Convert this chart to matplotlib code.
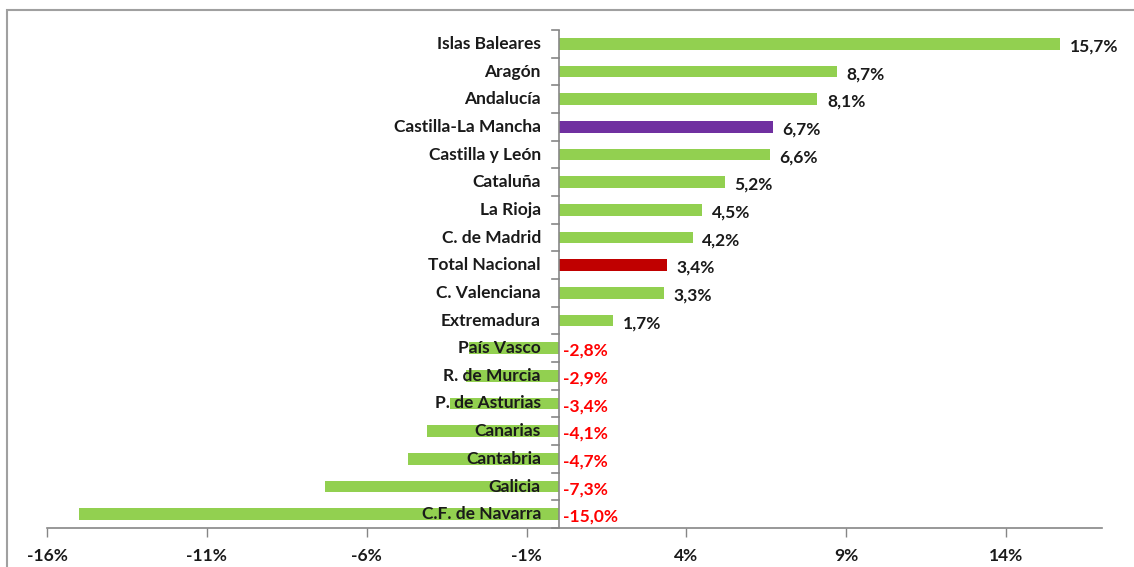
import matplotlib.pyplot as plt
from matplotlib.patches import Rectangle

regions = ['Islas Baleares', 'Aragón', 'Andalucía', 'Castilla-La Mancha',
           'Castilla y León', 'Cataluña', 'La Rioja', 'C. de Madrid',
           'Total Nacional', 'C. Valenciana', 'Extremadura', 'País Vasco',
           'R. de Murcia', 'P. de Asturias', 'Canarias', 'Cantabria',
           'Galicia', 'C.F. de Navarra']
values = [15.7, 8.7, 8.1, 6.7, 6.6, 5.2, 4.5, 4.2, 3.4, 3.3, 1.7,
          -2.8, -2.9, -3.4, -4.1, -4.7, -7.3, -15.0]
xticks = [-16, -11, -6, -1, 4, 9, 14]

GREEN = '#92D050'
colors = [GREEN] * len(regions)
colors[regions.index('Castilla-La Mancha')] = '#7030A0'
colors[regions.index('Total Nacional')] = '#C00000'

plt.rcParams['font.family'] = ['Lato', 'DejaVu Sans']
AX = '#868686'
FS = 12.5

fig = plt.figure(figsize=(11.34, 5.67), dpi=100)
ax = fig.add_axes([47 / 1134, 39 / 567, (1102 - 47) / 1134, (537 - 39) / 567])

y = list(range(len(regions)))
ax.barh(y, values, height=0.42, color=colors, zorder=2)
ax.set_ylim(len(regions) - 0.5, -0.5)
ax.set_xlim(-16, 17)

for i, (name, v) in enumerate(zip(regions, values)):
    ax.text(-0.55, i, name, ha='right', va='center', fontsize=FS,
            fontweight='bold', color='#1a1a1a', zorder=3)
    if v >= 0:
        ax.text(v + 0.3, i + 0.1, f'{v:.1f}%'.replace('.', ','), ha='left',
                va='center', fontsize=FS, fontweight='bold', color='#1a1a1a')
    else:
        ax.text(0.15, i + 0.1, f'{v:.1f}%'.replace('.', ','), ha='left',
                va='center', fontsize=FS, fontweight='bold', color='#FF0000')

# x axis
ax.set_xticks(xticks)
ax.set_xticklabels([f'{t}%' for t in xticks], fontsize=FS, fontweight='bold',
                   color='#1a1a1a')
ax.tick_params(axis='x', length=6.5, width=1, color=AX, pad=8)
ax.set_yticks([])
for s in ['top', 'right', 'left']:
    ax.spines[s].set_visible(False)
ax.spines['bottom'].set_color(AX)
ax.spines['bottom'].set_linewidth(1.2)

# vertical axis at zero with boundary ticks
ax.axvline(0, color=AX, lw=1.2, zorder=4)
for b in range(len(regions) + 1):
    ax.plot([-0.2, 0], [b - 0.5, b - 0.5], color=AX, lw=1.2, zorder=4,
            clip_on=False)

# outer chart frame
fig.patches.append(Rectangle((7 / 1134, -0.1), 1.2, 557 / 567 + 0.1,
                             transform=fig.transFigure, fill=False,
                             edgecolor='#a0a0a0', lw=1.5))

fig.savefig('out.png', dpi=100)
